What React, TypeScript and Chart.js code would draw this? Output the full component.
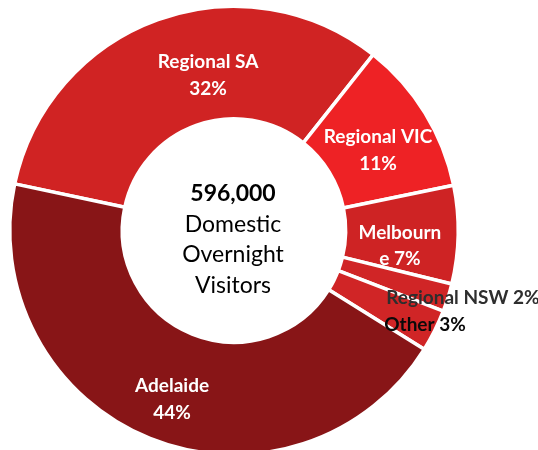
import { useEffect, useRef } from 'react';
import { Chart, registerables } from 'chart.js';

Chart.register(...registerables);

const categories = ['Regional SA', 'Regional VIC', 'Melbourne', 'Regional NSW', 'Other', 'Adelaide'];
const shares = [32, 11, 7, 2, 3, 44];
const labelLines = [
  ['Regional SA', '32%'],
  ['Regional VIC', '11%'],
  ['Melbourn', 'e 7%'],
  ['Regional NSW 2%'],
  ['Other 3%'],
  ['Adelaide', '44%'],
];
const centerTitle = '596,000';
const centerLines = ['Domestic', 'Overnight', 'Visitors'];

const sliceColors = ['#D02323', '#EE2225', '#CE2324', '#D02526', '#D02526', '#881517'];
const labelStyles = [
  { dx: 31, dy: 3, color: '#ffffff', align: 'center' },
  { dx: 1, dy: 8, color: '#ffffff', align: 'center' },
  { dx: -2, dy: 12, color: '#ffffff', align: 'center' },
  { dx: -8, dy: 17, color: '#2e2e2e', align: 'left' },
  { dx: 0, dy: 19, color: '#0a0a0a', align: 'left' },
  { dx: 1, dy: 13, color: '#ffffff', align: 'center' },
];

const FONT = 'Lato, "Open Sans", sans-serif';

const labelPlugin = {
  id: 'labelPlugin',
  afterDatasetsDraw(chart: any) {
    const ctx = chart.ctx;
    const meta = chart.getDatasetMeta(0);
    ctx.save();
    ctx.textBaseline = 'middle';
    meta.data.forEach((arc: any, i: number) => {
      const pos = arc.tooltipPosition(false);
      const st = labelStyles[i];
      const lines = labelLines[i];
      const lh = 26.5;
      ctx.font = `bold 19px ${FONT}`;
      ctx.fillStyle = st.color;
      ctx.textAlign = st.align;
      const cx = pos.x + st.dx;
      const cy = pos.y + st.dy;
      lines.forEach((t: string, j: number) => {
        const y = cy + (j - (lines.length - 1) / 2) * lh;
        ctx.fillText(t, cx, y);
      });
    });
    const a = meta.data[0];
    const x = a.x - 1;
    const y0 = a.y;
    ctx.textAlign = 'center';
    ctx.fillStyle = '#000000';
    ctx.font = `bold 23px ${FONT}`;
    ctx.fillText(centerTitle, x, y0 - 37);
    ctx.font = `23px ${FONT}`;
    centerLines.forEach((t, j) => {
      ctx.fillText(t, x, y0 - 6 + j * 30.5);
    });
    ctx.restore();
  },
};

export default function App() {
  const ref = useRef<HTMLCanvasElement | null>(null);
  useEffect(() => {
    if (!ref.current) return;
    const chart = new Chart(ref.current, {
      type: 'doughnut',
      data: {
        labels: categories,
        datasets: [
          {
            data: shares,
            backgroundColor: sliceColors,
            borderColor: '#ffffff',
            borderWidth: 3.5,
            hoverOffset: 0,
          },
        ],
      },
      options: {
        animation: false,
        responsive: false,
        rotation: -78,
        cutout: '49.8%',
        layout: { padding: { left: 8, top: 4.5, right: 78, bottom: 3.5 } },
        plugins: {
          legend: { display: false },
          tooltip: { enabled: false },
        },
      },
      plugins: [labelPlugin],
    });
    return () => chart.destroy();
  }, []);
  return (
    <div style={{ position: 'absolute', left: 0, top: 0, width: 538, height: 450, overflow: 'hidden', background: '#fff' }}>
      <canvas ref={ref} width={538} height={460} style={{ display: 'block', width: 538, height: 460 }} />
    </div>
  );
}
